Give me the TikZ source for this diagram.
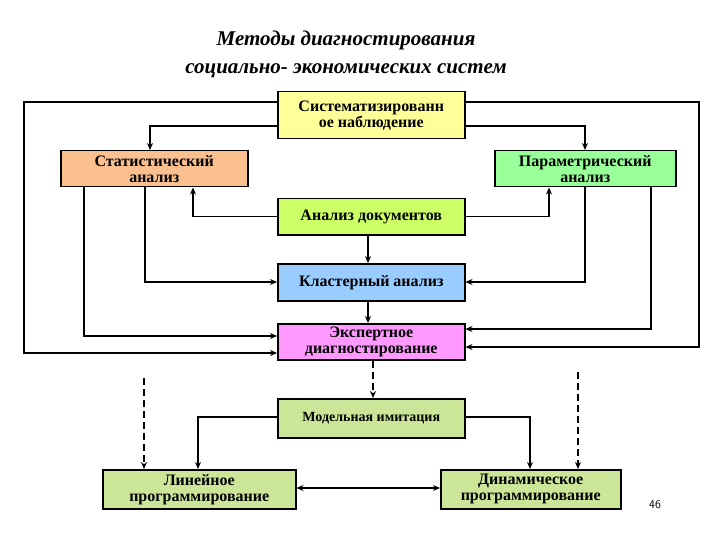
\documentclass[tikz,border=0pt]{standalone}
\usepackage{fontspec}
\setmainfont{Liberation Serif}
\usetikzlibrary{arrows.meta}
\begin{document}
\begin{tikzpicture}[x=1pt,y=-1pt,
  box/.style={draw,line width=1.5pt,font=\bfseries\fontsize{16}{16}\selectfont,align=center,inner sep=0pt,anchor=north west},
  ln/.style={line width=1.4pt,-{Stealth[length=7pt,width=6pt]}},
  dl/.style={ln,dash pattern=on 7pt off 4pt}]
\useasboundingbox (0,0) rectangle (720,540);
\node[font=\bfseries\itshape\fontsize{21}{28}\selectfont,align=center] (t) at (346,54) {Методы диагностирования\\социально- экономических систем};
\node[box,fill={rgb,255:red,255;green,255;blue,153},minimum width=187,minimum height=47] (sys) at (277,91) {Систематизированн\\ое наблюдение};
\node[box,fill={rgb,255:red,250;green,192;blue,144},minimum width=187,minimum height=36] (st) at (60,150) {Статистический\\анализ};
\node[box,fill={rgb,255:red,153;green,255;blue,153},minimum width=181,minimum height=36] (pa) at (494,150) {Параметрический\\анализ};
\node[box,fill={rgb,255:red,204;green,255;blue,102},minimum width=187,minimum height=36] (doc) at (277,198) {Анализ документов};
\node[box,fill={rgb,255:red,153;green,204;blue,255},minimum width=187,minimum height=37] (cl) at (277,263) {Кластерный анализ};
\node[box,fill={rgb,255:red,255;green,153;blue,255},minimum width=187,minimum height=36] (ex) at (277,323) {Экспертное\\диагностирование};
\node[box,fill={rgb,255:red,204;green,230;blue,153},minimum width=187,minimum height=39,font=\bfseries\fontsize{14}{14}\selectfont] (mo) at (277,398) {Модельная имитация};
\node[box,fill={rgb,255:red,204;green,230;blue,153},minimum width=193,minimum height=39] (li) at (102,469) {Линейное\\программирование};
\node[box,fill={rgb,255:red,204;green,230;blue,153},minimum width=180,minimum height=39] (dy) at (440,469) {Динамическое\\программирование};
\node[font=\sffamily\fontsize{12}{12}\selectfont] (pg) at (655,505) {46};
\coordinate (dlt) at (144,378);
\coordinate (drt) at (578,372);
\draw[ln] (sys.west |- 0,102) -- (24,102) -- (24,353) -- (ex.west |- 0,353);
\draw[ln] (sys.east |- 0,102) -- (699,102) -- (699,347) -- (ex.east |- 0,347);
\draw[ln] (sys.west |- 0,126) -| (st.north -| 150,0);
\draw[ln] (sys.east |- 0,126) -| (pa.north -| 585,0);
\draw[ln] (doc.west) -| (st.south -| 193,0);
\draw[ln] (doc.east) -| (pa.south -| 549,0);
\draw[ln] (doc.south -| 368,0) -- (cl.north -| 368,0);
\draw[ln] (cl.south -| 368,0) -- (ex.north -| 368,0);
\draw[ln] (st.south -| 145,0) |- (cl.west |- 0,282);
\draw[ln] (pa.south -| 585,0) |- (cl.east |- 0,282);
\draw[ln] (st.south -| 84,0) |- (ex.west |- 0,336);
\draw[ln] (pa.south -| 651,0) |- (ex.east |- 0,329);
\draw[dl] (ex.south -| 373,0) -- (mo.north -| 373,0);
\draw[dl] (dlt) -- (li.north -| dlt);
\draw[dl] (drt) -- (dy.north -| drt);
\draw[ln] (mo.west |- 0,417) -| (li.north -| 198,0);
\draw[ln] (mo.east |- 0,417) -| (dy.north -| 530,0);
\draw[line width=1.4pt,{Stealth[length=7pt,width=6pt]}-{Stealth[length=7pt,width=6pt]}] (li.east |- 0,488) -- (dy.west |- 0,488);
\end{tikzpicture}
\end{document}
